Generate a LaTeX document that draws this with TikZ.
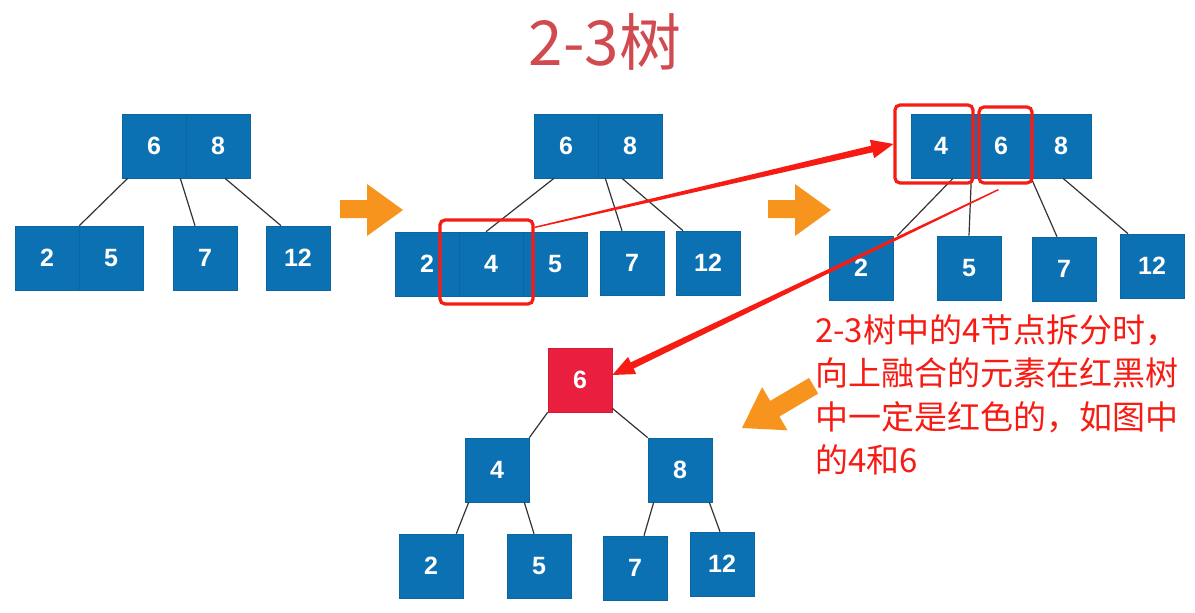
\documentclass[tikz,border=0pt]{standalone}
\usepackage{fontspec}
\usepackage{tikz}
\usetikzlibrary{calc}
\setmainfont{Liberation Sans}
\newfontfamily\cjk{Noto Sans CJK SC}

\definecolor{boxblue}{RGB}{12,113,178}
\definecolor{rbred}{RGB}{234,30,62}
\definecolor{titlered}{RGB}{208,74,80}
\definecolor{annotred}{RGB}{246,28,20}
\definecolor{arroworange}{RGB}{247,148,30}

% tapered red arrow: thin at the start, thick at the head
\newcommand{\redarrow}[2]{%
  \path (#1) coordinate (ra-s) (#2) coordinate (ra-t);
  \path ($(ra-t)!22pt!(ra-s)$) coordinate (ra-h);
  \fill[annotred] ($(ra-s)!0.7pt!90:(ra-t)$) -- ($(ra-h)!3.4pt!-90:(ra-s)$)
    -- ($(ra-h)!9.5pt!-90:(ra-s)$) -- (ra-t) -- ($(ra-h)!9.5pt!90:(ra-s)$)
    -- ($(ra-h)!3.4pt!90:(ra-s)$) -- ($(ra-s)!0.7pt!-90:(ra-t)$) -- cycle;
}

\begin{document}
\begin{tikzpicture}[x=1pt,y=-1pt,
    key/.style={fill=boxblue,draw=boxblue!90!black,line width=0.6pt,text=white,
      minimum width=64pt,minimum height=64pt,inner sep=0pt,
      font=\fontsize{25}{25}\selectfont\bfseries},
    narrow/.style={key,minimum width=60pt},
    redkey/.style={key,fill=rbred,draw=rbred!90!black},
    link/.style={draw=black!80,line width=1.2pt},
    mark box/.style={draw=annotred,line width=3.2pt,rounded corners=5pt,
      inner sep=0pt},
    bigarrow/.style={fill=arroworange}]
\useasboundingbox (0,0) rectangle (1195,613);

% title
\node[text=titlered,font=\cjk\fontsize{62}{62}\selectfont] (title) at (605,42) {2-3树};

% first 2-3 tree
\node[key] (t1six) at (154,146) {6};
\node[key] (t1eight) at (218,146) {8};
\node[key] (t1two) at (47,258) {2};
\node[key] (t1five) at (111,258) {5};
\node[key] (t1seven) at (205,258) {7};
\node[key] (t1twelve) at (298,258) {12};
\draw[link] ([xshift=6pt]t1six.south west) -- (t1two.north east);
\draw[link] ([xshift=-6pt]t1six.south east) -- ([xshift=-10pt]t1seven.north);
\draw[link] ([xshift=7pt]t1eight.south) -- ([xshift=-17pt]t1twelve.north);

\fill[bigarrow] (340,200) -- (367,200) -- (367,184) -- (403,210) -- (367,236) -- (367,218) -- (340,218) -- cycle;

% after inserting 4
\node[key] (t2six) at (566,146) {6};
\node[key] (t2eight) at (630,146) {8};
\node[key] (t2two) at (427,264) {2};
\node[key] (t2four) at (491,264) {4};
\node[key] (t2five) at (555,264) {5};
\node[key] (t2seven) at (632,263) {7};
\node[key] (t2twelve) at (708,263) {12};
\draw[link] ([xshift=-12pt]t2six.south) -- ([xshift=-5pt]t2four.north);
\draw[link] ([xshift=7pt]t2six.south east) -- ([xshift=-10pt]t2seven.north);
\draw[link] ([xshift=-8pt]t2eight.south) -- ([xshift=-25pt]t2twelve.north);
\node[mark box,minimum width=93pt,minimum height=84pt] (hlfour) at (486.5,262) {};

\fill[bigarrow] (768,200) -- (795,200) -- (795,184) -- (831,210) -- (795,236) -- (795,218) -- (768,218) -- cycle;

% after splitting
\node[narrow] (t3four) at (941,146) {4};
\node[narrow] (t3six) at (1001,146) {6};
\node[narrow] (t3eight) at (1061,146) {8};
\node[key] (t3two) at (861,268) {2};
\node[key] (t3five) at (969,268) {5};
\node[key] (t3seven) at (1064,269) {7};
\node[key] (t3twelve) at (1152,266) {12};
\draw[link] ([xshift=12pt]t3four.south) -- ([xshift=4pt]t3two.north east);
\draw[link] (t3four.south east) -- (t3five.north);
\draw[link] (t3six.south east) -- ([xshift=-7pt]t3seven.north);
\draw[link] ([xshift=2pt]t3eight.south) -- ([xshift=-24pt]t3twelve.north);
\node[mark box,minimum width=78pt,minimum height=78pt] (hlfourb) at (934,144) {};
\node[mark box,minimum width=53pt,minimum height=76pt] (hlsix) at (1005.5,145) {};

% red-black tree
\node[redkey] (rbsix) at (580,380) {6};
\node[key] (rbfour) at (497,470) {4};
\node[key] (rbeight) at (680,470) {8};
\node[key] (rbtwo) at (431,566) {2};
\node[key] (rbfive) at (539,566) {5};
\node[key] (rbseven) at (635,568) {7};
\node[key] (rbtwelve) at (722,564) {12};
\draw[link] (rbsix.south west) -- (rbfour.north east);
\draw[link] ([yshift=4pt]rbsix.south east) -- (rbeight.north west);
\draw[link] ([xshift=4pt]rbfour.south west) -- ([xshift=-7pt]rbtwo.north east);
\draw[link] ([xshift=-5pt]rbfour.south east) -- ([xshift=-5pt]rbfive.north);
\draw[link] ([xshift=6pt]rbeight.south west) -- ([xshift=9pt]rbseven.north);
\draw[link] ([xshift=-3pt]rbeight.south east) -- ([xshift=-2pt]rbtwelve.north);

\fill[bigarrow] (809,378) -- (818.2,393.6) -- (779.4,416.5) -- (787.5,430.3) -- (742,428)
  -- (762.1,387.1) -- (770.2,400.9) -- cycle;

% red annotation arrows
\redarrow{$(hlfour.north east)+(0,9)$}{hlfourb.west}
\redarrow{[xshift=-7pt,yshift=-5pt]hlsix.south}{[yshift=5pt]rbsix.east}

\node[anchor=north west,inner sep=0pt,align=left,text=annotred,
  font=\cjk\fontsize{33}{43.5}\selectfont] (note) at (815,314)
  {2-3树中的4节点拆分时，\\向上融合的元素在红黑树\\中一定是红色的，如图中\\的4和6};
\end{tikzpicture}
\end{document}
